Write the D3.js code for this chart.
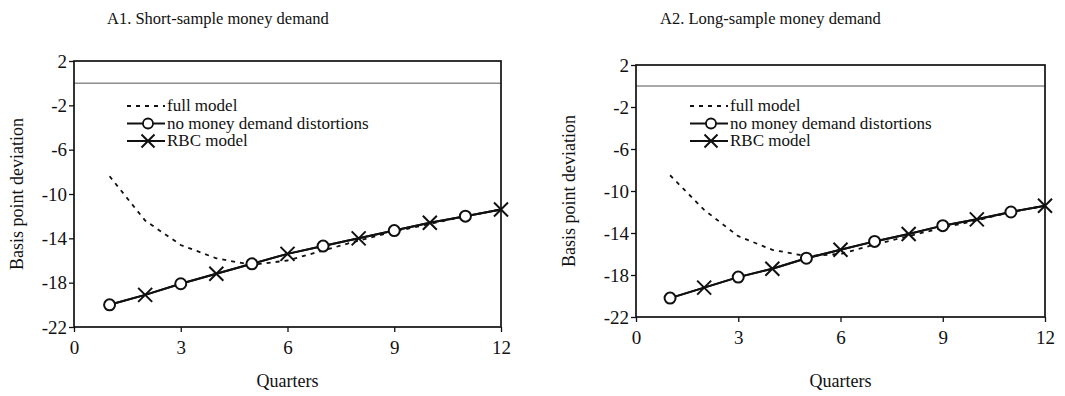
<!DOCTYPE html>
<html><head><meta charset="utf-8">
<script src="https://cdn.jsdelivr.net/npm/d3@7"></script>
<style>
body{margin:0;background:#fff}
text{font-family:"Liberation Serif","Times New Roman",serif;fill:#111}
</style>
</head><body>
<svg id="c" width="1065" height="396"></svg>
<script>
const quarters = [1,2,3,4,5,6,7,8,9,10,11,12];
const xTicks = [0,3,6,9,12];
const yTicks = [2,-2,-6,-10,-14,-18,-22];
const seriesNames = ["full model","no money demand distortions","RBC model"];
const panelTitles = ["A1. Short-sample money demand","A2. Long-sample money demand"];
const xTitle = "Quarters";
const yTitle = "Basis point deviation";

const shortFull    = [-8.4,-12.4,-14.6,-15.8,-16.4,-16.0,-15.1,-14.2,-13.4,-12.7,-12.0,-11.4];
const shortNoMoney = [-20.0,-19.1,-18.1,-17.2,-16.3,-15.4,-14.7,-14.0,-13.3,-12.6,-12.0,-11.4];
const shortRBC     = [-20.0,-19.1,-18.1,-17.2,-16.3,-15.4,-14.7,-14.0,-13.3,-12.6,-12.0,-11.4];
const longFull     = [-8.5,-11.8,-14.3,-15.6,-16.2,-16.0,-15.1,-14.3,-13.5,-12.8,-12.0,-11.4];
const longNoMoney  = [-20.2,-19.2,-18.2,-17.4,-16.4,-15.6,-14.8,-14.1,-13.3,-12.7,-12.0,-11.4];
const longRBC      = [-20.2,-19.2,-18.2,-17.4,-16.4,-15.6,-14.8,-14.1,-13.3,-12.7,-12.0,-11.4];

const svg = d3.select("#c");

const panels = [
  {title: panelTitles[0], full: shortFull, nm: shortNoMoney, rbc: shortRBC,
   L:74, R:501, T:61, B:327, titleX:107, legX:127, ylabX:23},
  {title: panelTitles[1], full: longFull, nm: longNoMoney, rbc: longRBC,
   L:636, R:1045, T:65, B:317, titleX:660, legX:690, ylabX:575}
];

function xMark(g, cx, cy, s){
  g.append("path").attr("d",`M${cx-s},${cy-s}L${cx+s},${cy+s}M${cx-s},${cy+s}L${cx+s},${cy-s}`)
   .attr("stroke","#111").attr("stroke-width",2).attr("fill","none");
}

panels.forEach(p=>{
  const g = svg.append("g");
  const x = d3.scaleLinear().domain([0,12]).range([p.L,p.R]);
  const y = d3.scaleLinear().domain([-22,2]).range([p.B,p.T]);

  g.append("text").attr("x",p.titleX).attr("y",24).attr("font-size",16.5).text(p.title);

  g.append("line").attr("x1",p.L).attr("x2",p.R).attr("y1",y(0)).attr("y2",y(0))
    .attr("stroke","#555").attr("stroke-width",1);

  g.append("rect").attr("x",p.L).attr("y",p.T).attr("width",p.R-p.L).attr("height",p.B-p.T)
    .attr("fill","none").attr("stroke","#111").attr("stroke-width",1.7);

  const fmt = d => String(d);
  const ax = g.append("g").attr("transform",`translate(0,${p.B})`)
    .call(d3.axisBottom(x).tickValues(xTicks).tickSize(5).tickPadding(9).tickFormat(fmt));
  ax.select(".domain").remove();
  ax.selectAll("line").attr("stroke","#111").attr("stroke-width",1.3);
  ax.selectAll("text").attr("font-size",19).attr("font-family","Liberation Serif").attr("fill","#111");

  const ay = g.append("g").attr("transform",`translate(${p.L},0)`)
    .call(d3.axisLeft(y).tickValues(yTicks).tickSize(5).tickPadding(2).tickFormat(fmt));
  ay.select(".domain").remove();
  ay.selectAll("line").attr("stroke","#111").attr("stroke-width",1.3);
  ay.selectAll("text").attr("font-size",19).attr("font-family","Liberation Serif").attr("fill","#111");

  g.append("text").attr("x",(p.L+p.R)/2).attr("y",387).attr("text-anchor","middle")
    .attr("font-size",18).text(xTitle);
  g.append("text").attr("transform",`translate(${p.ylabX},${(p.T+p.B)/2}) rotate(-90)`)
    .attr("text-anchor","middle").attr("font-size",18).text(yTitle);

  const line = d3.line().x((d,i)=>x(quarters[i])).y(d=>y(d));
  g.append("path").datum(p.full).attr("d",line).attr("fill","none")
    .attr("stroke","#111").attr("stroke-width",1.8).attr("stroke-dasharray","4,5");
  g.append("path").datum(p.nm).attr("d",line).attr("fill","none")
    .attr("stroke","#111").attr("stroke-width",2);
  g.append("path").datum(p.rbc).attr("d",line).attr("fill","none")
    .attr("stroke","#111").attr("stroke-width",2);

  p.nm.forEach((v,i)=>{ if(quarters[i]%2===1)
    g.append("circle").attr("cx",x(quarters[i])).attr("cy",y(v)).attr("r",5.5)
      .attr("fill","#fff").attr("stroke","#111").attr("stroke-width",2); });
  p.rbc.forEach((v,i)=>{ if(quarters[i]%2===0) xMark(g, x(quarters[i]), y(v), 7); });

  const lx = p.legX, ly = [106,123.5,141], lw = 38;
  seriesNames.forEach((nm,i)=>{
    const yy = ly[i];
    const l = g.append("line").attr("x1",lx).attr("x2",lx+lw).attr("y1",yy).attr("y2",yy)
      .attr("stroke","#111").attr("stroke-width",1.8);
    if(i===0) l.attr("stroke-dasharray","4,5");
    if(i===1) g.append("circle").attr("cx",lx+lw/2+2).attr("cy",yy).attr("r",5)
      .attr("fill","#fff").attr("stroke","#111").attr("stroke-width",1.8);
    if(i===2) xMark(g, lx+lw/2+2, yy, 6.5);
    g.append("text").attr("x",lx+lw+2).attr("y",yy+5).attr("font-size",17).text(nm);
  });
});
</script>
</body></html>
